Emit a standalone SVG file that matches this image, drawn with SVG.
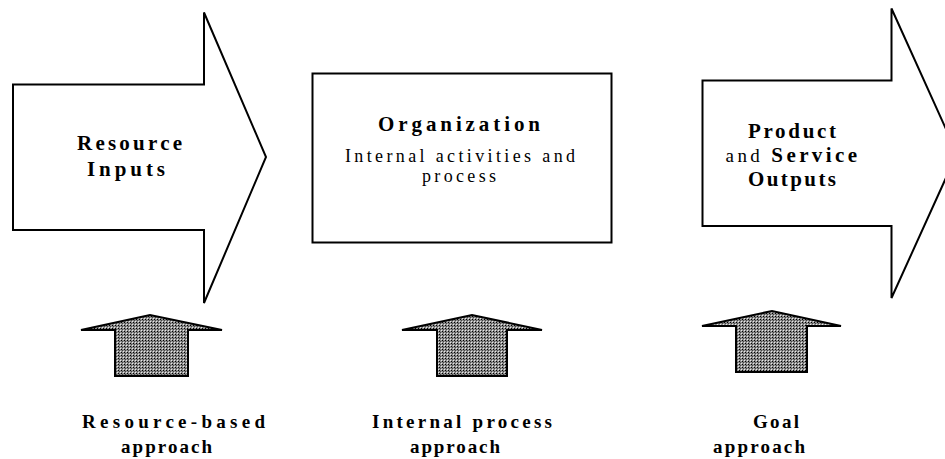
<svg xmlns="http://www.w3.org/2000/svg" width="945" height="459" viewBox="0 0 945 459">
  <defs>
    <!-- fine dotted halftone fill used for the small upward arrows -->
    <pattern id="dots" width="3" height="3" patternUnits="userSpaceOnUse">
      <rect width="3" height="3" fill="#8e8e8e"/>
      <rect x="0" y="0" width="1" height="1" fill="#e8e8e8"/>
      <rect x="1" y="1" width="1" height="1" fill="#000000"/>
      <rect x="2" y="2" width="1" height="1" fill="#444444"/>
    </pattern>
    <style>
      .outline { fill: #ffffff; stroke: #000000; stroke-width: 2; stroke-linejoin: miter; }
      .up { fill: url(#dots); stroke: #000000; stroke-width: 2; stroke-linejoin: miter; }
      .b { font-weight: bold; font-size: 21px; }
      .s { font-weight: bold; font-size: 19px; }
      .r { font-weight: normal; font-size: 18px; }
      .c { text-anchor: middle; }
    </style>
  </defs>

  <g font-family="'Liberation Serif', 'DejaVu Serif', serif" fill="#000000">
  <!-- input arrow -->
  <g id="resource-inputs">
    <polygon class="outline" points="13,84.5 204,84.5 204,12.5 266,157 204,303 204,230 13,230"/>
    <text class="b c" x="129.5" y="150" textLength="105" lengthAdjust="spacing">Resource</text>
    <text class="b c" x="126" y="176" textLength="78" lengthAdjust="spacing">Inputs</text>
  </g>

  <!-- organization box -->
  <g id="organization">
    <rect class="outline" x="312.5" y="73.5" width="299" height="169"/>
    <text class="b c" x="459" y="131" textLength="162" lengthAdjust="spacing">Organization</text>
    <text class="r c" x="460" y="162" textLength="230" lengthAdjust="spacing">Internal activities and</text>
    <text class="r c" x="459" y="182" textLength="74" lengthAdjust="spacing">process</text>
  </g>

  <!-- output arrow (tip runs past the right edge) -->
  <g id="outputs">
    <polygon class="outline" points="702.5,80.5 891.5,80.5 891.5,8.5 957,153.5 891.5,298 891.5,226 702.5,226"/>
    <text class="b c" x="792" y="138" textLength="88" lengthAdjust="spacing">Product</text>
    <text x="793" y="162" class="c" style="letter-spacing:3.4px"><tspan class="r" style="font-size:19px">and </tspan><tspan class="b">Service</tspan></text>
    <text class="b c" x="792" y="186" textLength="88" lengthAdjust="spacing">Outputs</text>
  </g>

  <!-- evaluation approaches -->
  <g id="resource-based">
    <polygon class="up" points="81,330 150,315 222,330 188,330 188,376 115,376 115,330"/>
    <text class="s c" x="173.5" y="428" textLength="183" lengthAdjust="spacing">Resource-based</text>
    <text class="s c" x="166.5" y="453" textLength="91" lengthAdjust="spacing">approach</text>
  </g>

  <g id="internal-process">
    <polygon class="up" points="402,330 472,315 542,330 507,330 507,376 437,376 437,330"/>
    <text class="s c" x="462" y="428" textLength="180" lengthAdjust="spacing">Internal process</text>
    <text class="s c" x="455" y="453" textLength="90" lengthAdjust="spacing">approach</text>
  </g>

  <g id="goal">
    <polygon class="up" points="702,326 772,311 841,326 807,326 807,372 736,372 736,326"/>
    <text class="s c" x="776" y="428" textLength="46" lengthAdjust="spacing">Goal</text>
    <text class="s c" x="759" y="453" textLength="92" lengthAdjust="spacing">approach</text>
  </g>
  </g>

  <g id="connectors"></g>
</svg>
